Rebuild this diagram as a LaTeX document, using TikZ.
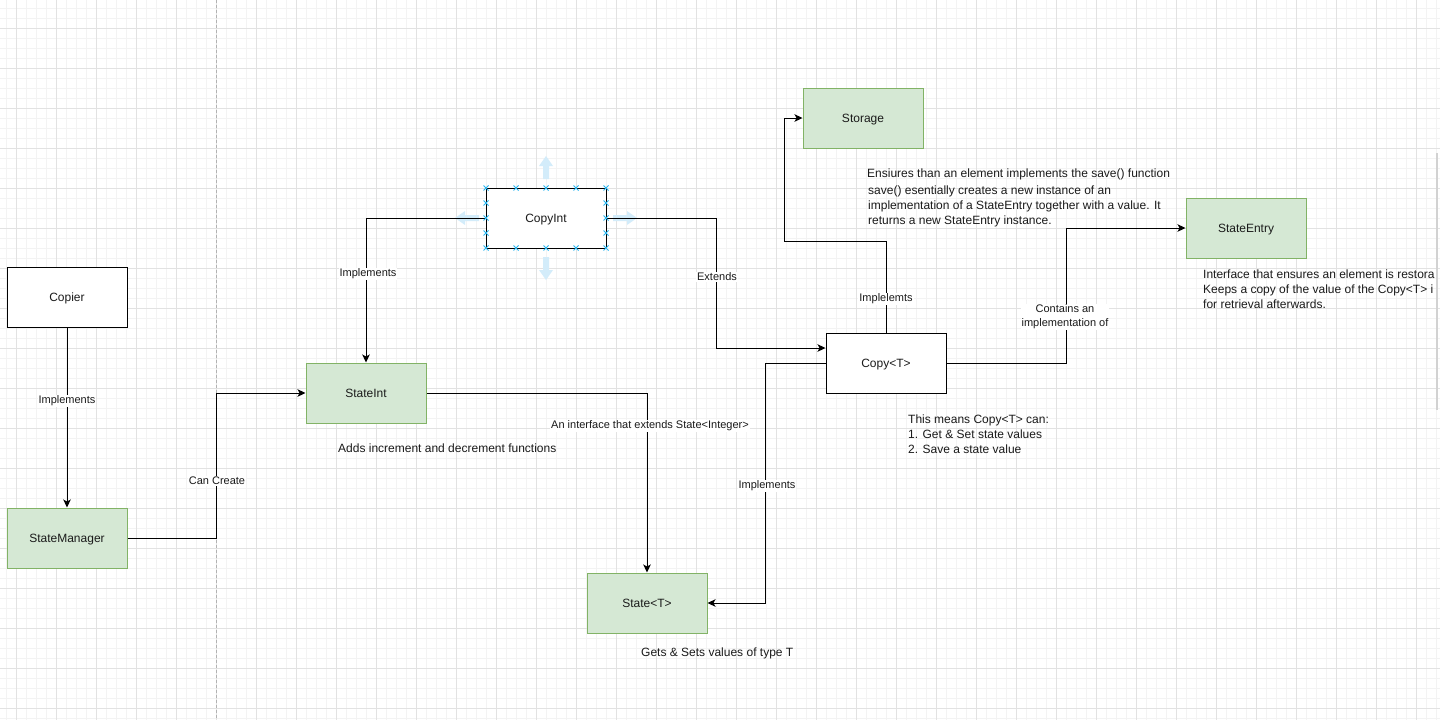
\documentclass[tikz,border=0pt]{standalone}
\usepackage{fontspec}
\setmainfont{Liberation Sans}
\usetikzlibrary{arrows.meta}
\definecolor{gfill}{HTML}{D5E8D4}
\definecolor{gdraw}{HTML}{82B366}
\definecolor{gridmaj}{HTML}{E2E2E2}
\definecolor{gridmin}{HTML}{F3F3F3}
\definecolor{selx}{HTML}{29B6F2}
\definecolor{selarrow}{HTML}{D3ECFA}
\definecolor{txt}{HTML}{1A1A1A}
\tikzset{
  box/.style={draw=black, line width=1pt, fill=white, minimum width=120pt, minimum height=60pt, inner sep=0pt, font=\fontsize{12}{14}\selectfont, text=txt, text height=9.6pt, text depth=1pt},
  gbox/.style={box, draw=gdraw, fill=gfill},
  conn/.style={draw=black, line width=1pt, -{Stealth[length=8pt,width=7.5pt,inset=2pt]}},
  lbl/.style={fill=white, inner sep=1pt, font=\fontsize{11}{14}\selectfont, text=txt, align=center},
  note/.style={anchor=west, inner sep=0pt, align=left, font=\fontsize{12}{15}\selectfont, text=txt},
  selmark/.style={draw=selx, line width=0.8pt},
  selarr/.style={fill=selarrow, draw=none}
}
\begin{document}
\begin{tikzpicture}[x=1pt,y=-1pt]
\useasboundingbox (0,0) rectangle (1440,720);
\fill[white] (0,0) rectangle (1440,720);
% grid
\foreach \x in {6,16,...,1436} \draw[gridmin, line width=0.8pt] (\x,0) -- (\x,720);
\foreach \y in {8,18,...,718} \draw[gridmin, line width=0.8pt] (0,\y) -- (1440,\y);
\foreach \x in {16,56,...,1416} \draw[gridmaj, line width=1pt] (\x,0) -- (\x,720);
\foreach \y in {28,68,...,708} \draw[gridmaj, line width=1pt] (0,\y) -- (1440,\y);
\draw[gray!60, line width=0.8pt, dash pattern=on 3pt off 2pt] (216,0) -- (216,720);
\draw[gray!35, line width=2pt] (1437,153) -- (1437,410);

% selection arrows around CopyInt
\fill[selarr] (546,156) -- (553,166) -- (549,166) -- (549,179) -- (543,179) -- (543,166) -- (539,166) -- cycle;
\fill[selarr] (546,280) -- (553,270) -- (549,270) -- (549,257) -- (543,257) -- (543,270) -- (539,270) -- cycle;
\fill[selarr] (455,218) -- (465,211) -- (465,215) -- (479,215) -- (479,221) -- (465,221) -- (465,225) -- cycle;
\fill[selarr] (637,218) -- (627,211) -- (627,215) -- (613,215) -- (613,221) -- (627,221) -- (627,225) -- cycle;

% nodes
\node[box]  (copier) at (67,297)  {Copier};
\node[gbox] (sm)     at (67,538)  {StateManager};
\node[gbox] (si)     at (366,393) {StateInt};
\node[box]  (ci)     at (546,218) {CopyInt};
\node[gbox] (st)     at (863,118) {Storage};
\node[box]  (cp)     at (886,363) {Copy<T>};
\node[gbox] (se)     at (1246,228) {StateEntry};
\node[gbox] (sT)     at (647,603) {State<T>};

% connectors
\draw[conn] (copier.south) -- (sm.north);
\node[lbl] at (67,401) {Implements};

\draw[conn] (sm.east) -- ++(89,0) |- (si.west);
\node[lbl] at (217,481) {Can Create};

\draw[conn] (ci.west) -| (si.north);
\node[lbl] at (368,274) {Implements};

\draw[conn] (ci.east) -- ++(110,0) |- ([yshift=15pt]cp.west);
\node[lbl] at (717,277) {Extends};

\draw[conn] (si.east) -| (sT.north);
\node[lbl] at (650,426) {An interface that extends State<Integer>};

\draw[conn] (cp.west) -- ++(-60,0) |- (sT.east);
\node[lbl] at (767,486) {Implements};

\draw[conn] (cp.north) |- (784,241) |- (st.west);
\node[lbl] at (886,299) {Implelemts};

\draw[conn] (cp.east) -- ++(120,0) |- (se.west);
\node[lbl] at (1065,317) {Contains an\\implementation of};

% selection handles on CopyInt
\foreach \p in {(486,188),(516,188),(546,188),(576,188),(606,188),
                (486,248),(516,248),(546,248),(576,248),(606,248),
                (486,203),(486,218),(486,233),(606,203),(606,218),(606,233)}
  \draw[selmark] \p ++(-2.5,-2.5) -- ++(5,5) \p ++(-2.5,2.5) -- ++(5,-5);

% notes
\node[note] (n1) at (338,448) {Adds increment and decrement functions};
\node[note] (n2) at (641,653) {Gets \& Sets values of type T};
\node[note] (n3) at (908,434) {This means Copy<T> can:\\1. Get \& Set state values\\2. Save a state value};
\node[note] (n4) at (867,174) {Ensiures than an element implements the save() function};
\node[note] (n5) at (868,206) {save() esentially creates a new instance of an\\implementation of a StateEntry together with a value. It\\returns a new StateEntry instance.};
\node[note] (n6) at (1203,289) {Interface that ensures an element is restora\\Keeps a copy of the value of the Copy<T> i\\for retrieval afterwards.};
\end{tikzpicture}
\end{document}
